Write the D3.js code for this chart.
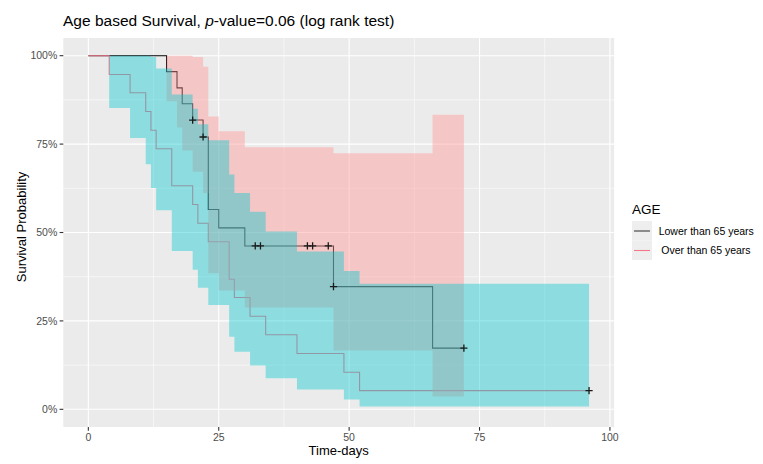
<!DOCTYPE html>
<html>
<head>
<meta charset="utf-8">
<script src="https://cdn.jsdelivr.net/npm/d3@7"></script>
<style>
  html, body { margin: 0; padding: 0; background: #ffffff; }
  svg { display: block; font-family: "Liberation Sans", Arial, sans-serif; }
</style>
</head>
<body>
<svg id="chart" width="763" height="464"></svg>
<script>
// ---- Data ----
// Group "Lower than 65 years" (dark line, salmon band)
const lowerTimes = [0, 15, 17, 18, 20, 22, 23, 25, 30, 47, 66, 72];
const lowerSurv  = [1, 0.955, 0.909, 0.864, 0.818, 0.770, 0.565, 0.513, 0.462, 0.347, 0.173, 0.173];
const lowerLo    = [1, 0.871, 0.797, 0.732, 0.672, 0.612, 0.385, 0.336, 0.288, 0.166, 0.036, 0.036];
const lowerHi    = [1, 1, 1, 1, 0.996, 0.969, 0.828, 0.786, 0.741, 0.724, 0.833, 0.833];
const lowerCensor = [20, 22, 32, 33, 42, 43, 46, 47, 72];

// Group "Over than 65 years" (pink line, cyan band)
const overTimes = [0, 4, 8, 11, 12, 13, 16, 20, 21, 23, 27, 28, 31, 34, 40, 49, 52, 96];
const overSurv  = [1, 0.947, 0.895, 0.842, 0.789, 0.737, 0.632, 0.579, 0.526, 0.474, 0.368, 0.316, 0.263, 0.211, 0.158, 0.105, 0.053, 0.053];
const overLo    = [1, 0.852, 0.767, 0.693, 0.626, 0.563, 0.448, 0.395, 0.344, 0.295, 0.205, 0.163, 0.124, 0.088, 0.056, 0.028, 0.008, 0.008];
const overHi    = [1, 1, 1, 1, 0.996, 0.964, 0.890, 0.850, 0.806, 0.761, 0.664, 0.612, 0.559, 0.503, 0.446, 0.391, 0.355, 0.355];
const overCensor = [96];

const xTicks = [0, 25, 50, 75, 100];
const xMinor = [12.5, 37.5, 62.5, 87.5];
const yTicks = [0, 0.25, 0.5, 0.75, 1];
const yMinor = [0.125, 0.375, 0.625, 0.875];
const legendLabels = ["Lower than 65 years", "Over than 65 years"];

// ---- Layout ----
const svg = d3.select("#chart");
const panel = { left: 63.3, right: 614.1, top: 38, bottom: 427 };
const x = d3.scaleLinear().domain([-4.8, 100.8]).range([panel.left, panel.right]);
const y = d3.scaleLinear().domain([-0.05, 1.05]).range([panel.bottom, panel.top]);

const colDark = "#000000";
const colPink = "#F4778A";
const fillSalmon = "#FF9A9A";
const fillCyan = "#00C8D0";

// panel background
svg.append("rect").attr("x", panel.left).attr("y", panel.top)
  .attr("width", panel.right - panel.left).attr("height", panel.bottom - panel.top)
  .attr("fill", "#EBEBEB");

const grid = svg.append("g");
xMinor.forEach(v => grid.append("line").attr("x1", x(v)).attr("x2", x(v))
  .attr("y1", panel.top).attr("y2", panel.bottom).attr("stroke", "#fff").attr("stroke-width", 0.55));
yMinor.forEach(v => grid.append("line").attr("y1", y(v)).attr("y2", y(v))
  .attr("x1", panel.left).attr("x2", panel.right).attr("stroke", "#fff").attr("stroke-width", 0.55));
xTicks.forEach(v => grid.append("line").attr("x1", x(v)).attr("x2", x(v))
  .attr("y1", panel.top).attr("y2", panel.bottom).attr("stroke", "#fff").attr("stroke-width", 1.1));
yTicks.forEach(v => grid.append("line").attr("y1", y(v)).attr("y2", y(v))
  .attr("x1", panel.left).attr("x2", panel.right).attr("stroke", "#fff").attr("stroke-width", 1.1));

// step lines
const line = d3.line().x(d => x(d[0])).y(d => y(d[1])).curve(d3.curveStepAfter);
const lowerPts = lowerTimes.map((t, i) => [t, lowerSurv[i]]);
const overPts = overTimes.map((t, i) => [t, overSurv[i]]);
svg.append("path").attr("d", line(lowerPts)).attr("fill", "none")
  .attr("stroke", colDark).attr("stroke-width", 1.1);
svg.append("path").attr("d", line(overPts)).attr("fill", "none")
  .attr("stroke", colPink).attr("stroke-width", 1.1);

// confidence ribbons (drawn above the lines, as in the reference)
const area = d3.area().x(d => x(d[0])).y0(d => y(d[1])).y1(d => y(d[2])).curve(d3.curveStepAfter);
svg.append("path").attr("d", area(lowerTimes.map((t, i) => [t, lowerLo[i], lowerHi[i]])))
  .attr("fill", fillSalmon).attr("fill-opacity", 0.45);
svg.append("path").attr("d", area(overTimes.map((t, i) => [t, overLo[i], overHi[i]])))
  .attr("fill", fillCyan).attr("fill-opacity", 0.4);

// censor marks
function survAt(times, surv, t) {
  let s = 1;
  for (let i = 0; i < times.length; i++) if (times[i] <= t) s = surv[i];
  return s;
}
function plus(g, cx, cy, col) {
  const r = 3.6;
  g.append("path").attr("d", `M${cx - r},${cy}H${cx + r}M${cx},${cy - r}V${cy + r}`)
    .attr("stroke", col).attr("stroke-width", 1.3).attr("fill", "none");
}
const cg = svg.append("g");
lowerCensor.forEach(t => plus(cg, x(t), y(survAt(lowerTimes, lowerSurv, t)), "#1a1a1a"));
overCensor.forEach(t => plus(cg, x(t), y(survAt(overTimes, overSurv, t)), "#1a1a1a"));

// axes
const axisG = svg.append("g");
xTicks.forEach(v => {
  axisG.append("line").attr("x1", x(v)).attr("x2", x(v)).attr("y1", panel.bottom).attr("y2", panel.bottom + 3.7)
    .attr("stroke", "#333").attr("stroke-width", 1.1);
  axisG.append("text").attr("x", x(v)).attr("y", panel.bottom + 13.5).attr("text-anchor", "middle")
    .attr("font-size", 10.5).attr("fill", "#4D4D4D").text(v);
});
yTicks.forEach(v => {
  axisG.append("line").attr("x1", panel.left - 3.7).attr("x2", panel.left).attr("y1", y(v)).attr("y2", y(v))
    .attr("stroke", "#333").attr("stroke-width", 1.1);
  axisG.append("text").attr("x", panel.left - 6).attr("y", y(v)).attr("dy", "0.35em").attr("text-anchor", "end")
    .attr("font-size", 10.5).attr("fill", "#4D4D4D").text(d3.format(".0%")(v));
});

// axis titles
svg.append("text").attr("x", (panel.left + panel.right) / 2).attr("y", 455).attr("text-anchor", "middle")
  .attr("font-size", 13).attr("fill", "#000").text("Time-days");
svg.append("text").attr("transform", "translate(26,227) rotate(-90)").attr("text-anchor", "middle")
  .attr("font-size", 13).attr("fill", "#000").text("Survival Probability");

// title
const title = svg.append("text").attr("x", 63).attr("y", 26).attr("font-size", 15.5).attr("fill", "#000");
title.append("tspan").text("Age based Survival, ");
title.append("tspan").attr("font-style", "italic").text("p");
title.append("tspan").text("-value=0.06 (log rank test)");

// legend
const lg = svg.append("g");
lg.append("text").attr("x", 632).attr("y", 214).attr("font-size", 13.5).attr("fill", "#000").text("AGE");
const keyCols = [colDark, colPink];
const keyOp = [0.75, 1];
legendLabels.forEach((lab, i) => {
  const ky = 221 + i * 19.5;
  lg.append("rect").attr("x", 632).attr("y", ky).attr("width", 20).attr("height", 19.5).attr("fill", "#EEEEEE");
  lg.append("line").attr("x1", 634).attr("x2", 650).attr("y1", ky + 10).attr("y2", ky + 10)
    .attr("stroke", keyCols[i]).attr("stroke-opacity", keyOp[i]).attr("stroke-width", 1.1);
  lg.append("text").attr("x", i === 0 ? 658.7 : 661.3).attr("y", ky + 10).attr("dy", "0.35em")
    .attr("font-size", 10.5).attr("fill", "#000").text(lab);
});
</script>
</body>
</html>
